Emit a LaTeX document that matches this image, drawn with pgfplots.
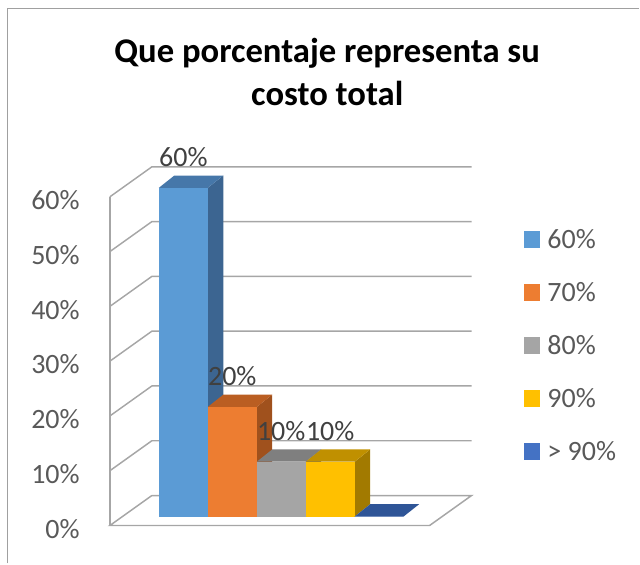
\documentclass[border=0pt]{standalone}
\usepackage{pgfplots}
\pgfplotsset{compat=1.18}
\usepackage{fontspec}
\setmainfont{Carlito}
\definecolor{cBlue}{HTML}{5B9BD5}
\definecolor{cBlueS}{HTML}{3C6591}
\definecolor{cBlueT}{HTML}{4677A9}
\definecolor{cOr}{HTML}{ED7D31}
\definecolor{cOrS}{HTML}{A0511D}
\definecolor{cOrT}{HTML}{BA5E22}
\definecolor{cGr}{HTML}{A5A5A5}
\definecolor{cGrS}{HTML}{6E6E6E}
\definecolor{cGrT}{HTML}{7F7F7F}
\definecolor{cYe}{HTML}{FFC000}
\definecolor{cYeS}{HTML}{A27A00}
\definecolor{cYeT}{HTML}{C09000}
\definecolor{cDb}{HTML}{4472C4}
\definecolor{cDbT}{HTML}{2F5597}
\definecolor{gridc}{HTML}{A6A6A6}
\definecolor{borderc}{HTML}{A0A0A0}
\definecolor{tickc}{HTML}{595959}
\definecolor{labc}{HTML}{404040}
\pgfplotsset{
  sq/.style={legend image code/.code={\fill[##1, draw=none] (0pt,-6.375pt) rectangle (12.75pt,6.375pt);}},
  bar3d/.style={ybar, bar width=49, bar shift=0pt, draw=none, sq},
  face/.style={draw=none, forget plot},
  wall/.style={draw=gridc, line width=1.1pt, forget plot, mark=none},
}
\begin{document}
\begin{tikzpicture}
\begin{axis}[
  scale only axis, width=480pt, height=423pt,
  xmin=0, xmax=640, ymin=-8.571, ymax=94.286,
  clip=false,
  axis line style={draw=none},
  major tick style={draw=none},
  xtick=\empty,
  ytick={-1.641,8.359,18.359,28.359,38.359,48.359,58.359},
  yticklabels={0\%,10\%,20\%,30\%,40\%,50\%,60\%},
  yticklabel style={anchor=east, inner sep=0pt, xshift=60pt, yshift=-2.5pt,
    font=\fontsize{21}{25}\selectfont, text=tickc},
  /pgf/number format/assume math mode=true,
  every node near coord/.append style={inner sep=0pt, yshift=15.75pt,
    font=\fontsize{21}{25}\selectfont, text=labc},
  legend cell align=left,
  legend style={at={(axis cs:524,52.14)}, anchor=north west, draw=none, fill=none,
    inner sep=0pt, outer sep=0pt, row sep=26.45pt, column sep=5.25pt,
    nodes={inner sep=0pt, text height=13.3pt, text depth=0pt},
    font=\fontsize{21}{25}\selectfont, text=tickc},
]
% border
\addplot[draw=borderc, line width=0.9pt, forget plot] coordinates {(7.5,-8.571) (7.5,92.736) (640,92.736)};
% floor
\addplot[wall] coordinates {(152,3.830) (472,3.830) (430,-1.641) (110,-1.641) (152,3.830)};
% left wall front edge
\addplot[wall] coordinates {(110,-1.641) (110,58.359)};
% gridlines 10..60
\addplot[wall] coordinates {(110,8.359) (152,13.830) (472,13.830)};
\addplot[wall] coordinates {(110,18.359) (152,23.830) (472,23.830)};
\addplot[wall] coordinates {(110,28.359) (152,33.830) (472,33.830)};
\addplot[wall] coordinates {(110,38.359) (152,43.830) (472,43.830)};
\addplot[wall] coordinates {(110,48.359) (152,53.830) (472,53.830)};
\addplot[wall] coordinates {(110,58.359) (152,63.830) (472,63.830)};
% bar 1: 60
\addplot[face, fill=cBlueS] coordinates {(208,0) (223.5,2.243) (223.5,62.243) (208,60)} -- cycle;
\addplot[face, fill=cBlueT] coordinates {(159,60) (208,60) (223.5,62.243) (174.5,62.243)} -- cycle;
\addplot[bar3d, fill=cBlue, nodes near coords={\pgfmathprintnumber{\pgfplotspointmeta}\%}] coordinates {(183.5,60)};
\addlegendentry{60\%}
% bar 2: 20
\addplot[face, fill=cOrS] coordinates {(257,0) (272.5,2.243) (272.5,22.243) (257,20)} -- cycle;
\addplot[face, fill=cOrT] coordinates {(208,20) (257,20) (272.5,22.243) (223.5,22.243)} -- cycle;
\addplot[bar3d, fill=cOr, nodes near coords={\pgfmathprintnumber{\pgfplotspointmeta}\%}] coordinates {(232.5,20)};
\addlegendentry{70\%}
% bar 3: 10
\addplot[face, fill=cGrS] coordinates {(306,0) (321.5,2.243) (321.5,12.243) (306,10)} -- cycle;
\addplot[face, fill=cGrT] coordinates {(257,10) (306,10) (321.5,12.243) (272.5,12.243)} -- cycle;
\addplot[bar3d, fill=cGr, nodes near coords={\pgfmathprintnumber{\pgfplotspointmeta}\%}] coordinates {(281.5,10)};
\addlegendentry{80\%}
% bar 4: 10
\addplot[face, fill=cYeS] coordinates {(355,0) (370.5,2.243) (370.5,12.243) (355,10)} -- cycle;
\addplot[face, fill=cYeT] coordinates {(306,10) (355,10) (370.5,12.243) (321.5,12.243)} -- cycle;
\addplot[bar3d, fill=cYe, nodes near coords={\pgfmathprintnumber{\pgfplotspointmeta}\%}] coordinates {(330.5,10)};
\addlegendentry{90\%}
% bar 5: 0
\addplot[face, fill=cDbT] coordinates {(355,0) (404,0) (419.5,2.243) (370.5,2.243)} -- cycle;
\addplot[bar3d, fill=cDb] coordinates {(379.5,0)};
\addlegendentry{> 90\%}
% title
\node[anchor=base, font=\bfseries\fontsize{26}{31}\selectfont] at (axis cs:327.5,82.797) {Que porcentaje representa su};
\node[anchor=base, font=\bfseries\fontsize{26}{31}\selectfont] at (axis cs:327.5,74.955) {costo total};
\end{axis}
\end{tikzpicture}
\end{document}
